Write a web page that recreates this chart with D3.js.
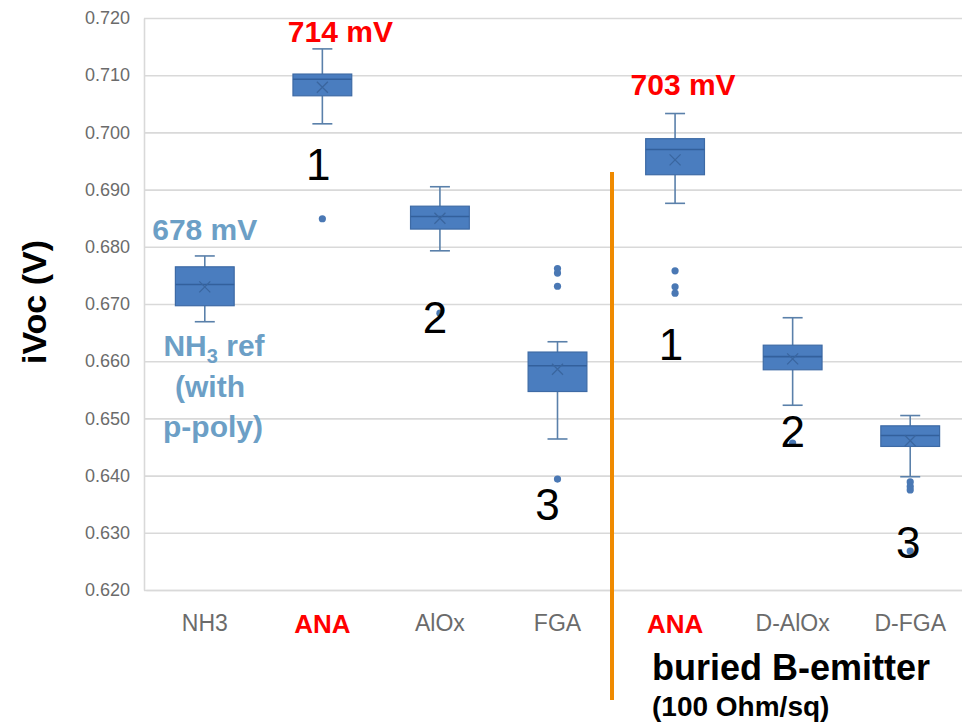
<!DOCTYPE html>
<html>
<head>
<meta charset="utf-8">
<script src="https://cdn.jsdelivr.net/npm/d3@7"></script>
<style>
  html, body { margin: 0; padding: 0; background: #fff; }
  svg { display: block; }
</style>
</head>
<body>
<svg id="chart" width="962" height="725"></svg>
<script>
// iVoc box plots per passivation / emitter process
const categories   = ["NH3", "ANA", "AlOx", "FGA", "ANA", "D-AlOx", "D-FGA"];
const highlighted  = [false, true, false, false, true, false, false];
const whiskerLow   = [0.6669, 0.7015, 0.6793, 0.6464, 0.6876, 0.6523, 0.6398];
const quartile1    = [0.6697, 0.7064, 0.6831, 0.6547, 0.6926, 0.6585, 0.6451];
const medians      = [0.6734, 0.7093, 0.6853, 0.6592, 0.6970, 0.6608, 0.6470];
const quartile3    = [0.6765, 0.7102, 0.6871, 0.6616, 0.6989, 0.6628, 0.6487];
const whiskerHigh  = [0.6784, 0.7146, 0.6905, 0.6634, 0.7033, 0.6676, 0.6505];
const means        = [0.6730, 0.7079, 0.6850, 0.6586, 0.6952, 0.6604, 0.6461];
const outliers     = [
  [],
  [0.6849],
  [0.6684],
  [0.6762, 0.6754, 0.6731, 0.6394],
  [0.6758, 0.6730, 0.6719],
  [0.6457],
  [0.6389, 0.6381, 0.6375, 0.6268]
];
const yTicks = [0.620, 0.630, 0.640, 0.650, 0.660, 0.670, 0.680, 0.690, 0.700, 0.710, 0.720];

// group numbers written below the boxes (baseline given on the value axis)
const groupLabels = ["", "1", "2", "3", "1", "2", "3"];
const groupLabelValues = [null, 0.6917, 0.6649, 0.6322, 0.6602, 0.6450, 0.6256];
const groupLabelShift = [0, -4, -5, -10, -4, 0, -2];

// best-value call-outs
const calloutText   = ["678 mV", "714 mV", "703 mV"];
const calloutIndex  = [0, 1, 4];
const calloutValues = [0.6812, 0.7158, 0.7065];
const calloutShift  = [0, 18, 8];

const svg = d3.select("#chart");
const plot = { left: 144, right: 969, top: 18, bottom: 590 };

const x = d3.scaleBand()
  .domain(d3.range(categories.length))
  .range([plot.left + 2, plot.right])
  .padding(0);

const y = d3.scaleLinear()
  .domain([0.620, 0.720])
  .range([plot.bottom, plot.top]);

svg.append("rect").attr("width", 962).attr("height", 725).attr("fill", "#fff");

// horizontal gridlines
svg.append("g")
  .attr("transform", `translate(${plot.left},0)`)
  .call(d3.axisLeft(y).tickValues(yTicks).tickSize(-(962 - plot.left)).tickFormat(""))
  .call(g => g.select(".domain").remove())
  .call(g => g.selectAll(".tick line").attr("stroke", "#d9d9d9").attr("stroke-width", 1.6));

// y tick labels
svg.append("g")
  .attr("transform", `translate(${plot.left},0)`)
  .call(d3.axisLeft(y).tickValues(yTicks).tickSize(0).tickPadding(14).tickFormat(d3.format(".3f")))
  .call(g => g.select(".domain").attr("stroke", "#d9d9d9").attr("stroke-width", 1.6))
  .call(g => g.selectAll(".tick text")
    .attr("fill", "#6b6b6b")
    .attr("font-family", "Liberation Sans, Arial, sans-serif")
    .attr("font-size", 18));

// x axis with category labels
svg.append("g")
  .attr("transform", `translate(0,${plot.bottom})`)
  .call(d3.axisBottom(x).tickSize(0).tickPadding(25).tickFormat(i => categories[i]))
  .call(g => g.select(".domain").attr("stroke", "#d9d9d9").attr("stroke-width", 1.6))
  .call(g => g.selectAll(".tick text")
    .attr("font-family", "Liberation Sans, Arial, sans-serif")
    .attr("font-size", i => highlighted[i] ? 26 : 23)
    .attr("font-weight", i => highlighted[i] ? "bold" : "normal")
    .attr("fill", i => highlighted[i] ? "#ff0000" : "#6b6b6b"));

// y axis title
svg.append("text")
  .attr("transform", `translate(46,302) rotate(-90)`)
  .attr("text-anchor", "middle")
  .attr("font-family", "Liberation Sans, Arial, sans-serif")
  .attr("font-weight", "bold")
  .attr("font-size", 34)
  .attr("fill", "#000")
  .text("iVoc (V)");

// box plots
const boxColor = "#4a7dbf";
const edgeColor = "#3d6aa5";
const whiskerColor = "#5a80aa";
const boxW = x.bandwidth() * 0.5;
const capW = x.bandwidth() * 0.17;

const boxes = svg.append("g").selectAll("g")
  .data(d3.range(categories.length))
  .join("g")
  .attr("transform", i => `translate(${x(i) + x.bandwidth() / 2},0)`);

boxes.append("line")
  .attr("x1", 0).attr("x2", 0)
  .attr("y1", i => y(whiskerHigh[i])).attr("y2", i => y(quartile3[i]))
  .attr("stroke", whiskerColor).attr("stroke-width", 1.6);
boxes.append("line")
  .attr("x1", 0).attr("x2", 0)
  .attr("y1", i => y(quartile1[i])).attr("y2", i => y(whiskerLow[i]))
  .attr("stroke", whiskerColor).attr("stroke-width", 1.6);
boxes.append("line")
  .attr("x1", -capW / 2).attr("x2", capW / 2)
  .attr("y1", i => y(whiskerHigh[i])).attr("y2", i => y(whiskerHigh[i]))
  .attr("stroke", whiskerColor).attr("stroke-width", 1.6);
boxes.append("line")
  .attr("x1", -capW / 2).attr("x2", capW / 2)
  .attr("y1", i => y(whiskerLow[i])).attr("y2", i => y(whiskerLow[i]))
  .attr("stroke", whiskerColor).attr("stroke-width", 1.6);

boxes.append("rect")
  .attr("x", -boxW / 2).attr("width", boxW)
  .attr("y", i => y(quartile3[i]))
  .attr("height", i => y(quartile1[i]) - y(quartile3[i]))
  .attr("fill", boxColor).attr("stroke", edgeColor).attr("stroke-width", 1.2);

boxes.append("line")
  .attr("x1", -boxW / 2).attr("x2", boxW / 2)
  .attr("y1", i => y(medians[i])).attr("y2", i => y(medians[i]))
  .attr("stroke", "#33609c").attr("stroke-width", 1.6);

// mean markers
const m = 5.5;
boxes.append("path")
  .attr("d", i => {
    const c = y(means[i]);
    return `M${-m},${c - m}L${m},${c + m}M${-m},${c + m}L${m},${c - m}`;
  })
  .attr("stroke", "#3a669f").attr("stroke-width", 1.3).attr("fill", "none");

// outliers
boxes.selectAll("circle")
  .data(i => outliers[i])
  .join("circle")
  .attr("cx", 0).attr("cy", d => y(d)).attr("r", 3.6)
  .attr("fill", "#4a78b4");

// separator between reference group and buried-emitter group
svg.append("line")
  .attr("x1", 612).attr("x2", 612)
  .attr("y1", 172).attr("y2", 700)
  .attr("stroke", "#ef8a00").attr("stroke-width", 4);

// group numbers
svg.append("g").selectAll("text")
  .data(d3.range(categories.length).filter(i => groupLabels[i]))
  .join("text")
  .attr("x", i => x(i) + x.bandwidth() / 2 + groupLabelShift[i])
  .attr("y", i => y(groupLabelValues[i]))
  .attr("text-anchor", "middle")
  .attr("font-family", "Liberation Sans, Arial, sans-serif")
  .attr("font-size", 44)
  .attr("fill", "#000")
  .text(i => groupLabels[i]);

// value call-outs
svg.append("g").selectAll("text")
  .data(d3.range(calloutText.length))
  .join("text")
  .attr("x", k => x(calloutIndex[k]) + x.bandwidth() / 2 + calloutShift[k])
  .attr("y", k => y(calloutValues[k]))
  .attr("text-anchor", "middle")
  .attr("font-family", "Liberation Sans, Arial, sans-serif")
  .attr("font-weight", "bold")
  .attr("font-size", 30)
  .attr("fill", k => k === 0 ? "#6c9fc6" : "#ff0000")
  .text(k => calloutText[k]);

// reference description
const refNote = svg.append("text")
  .attr("text-anchor", "middle")
  .attr("font-family", "Liberation Sans, Arial, sans-serif")
  .attr("font-weight", "bold")
  .attr("font-size", 30)
  .attr("fill", "#6c9fc6");
const l1 = refNote.append("tspan").attr("x", 214).attr("y", 356);
l1.append("tspan").text("NH");
l1.append("tspan").attr("font-size", 20).attr("dy", 7).text("3");
l1.append("tspan").attr("dy", -7).text(" ref");
refNote.append("tspan").attr("x", 210).attr("y", 397).text("(with");
refNote.append("tspan").attr("x", 213).attr("y", 437).text("p-poly)");

// emitter group caption
svg.append("text")
  .attr("x", 652).attr("y", 680)
  .attr("font-family", "Liberation Sans, Arial, sans-serif")
  .attr("font-weight", "bold")
  .attr("font-size", 36)
  .attr("fill", "#000")
  .text("buried B-emitter");
svg.append("text")
  .attr("x", 652).attr("y", 716)
  .attr("font-family", "Liberation Sans, Arial, sans-serif")
  .attr("font-weight", "bold")
  .attr("font-size", 28)
  .attr("fill", "#000")
  .text("(100 Ohm/sq)");
</script>
</body>
</html>
